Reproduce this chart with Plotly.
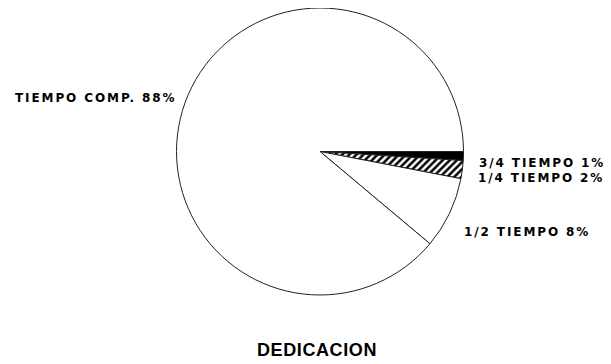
import plotly.graph_objects as go

# slices, clockwise from 3 o'clock
labels = ["3/4 TIEMPO", "1/4 TIEMPO", "1/2 TIEMPO", "TIEMPO COMP."]
values = [1, 2, 8, 88]
fills = ["black", "white", "white", "white"]
hatch = ["", "/", "", ""]

# page body has an 8px margin, so the figure is drawn 8px in from the corner
OFF = 8
W, H = 611 - OFF, 364 - OFF
cx, cy, r = 320 - OFF, 151.5 - OFF, 143.5   # pie centre / radius in pixels

fig = go.Figure(go.Pie(
    labels=labels,
    values=values,
    sort=False,
    direction="clockwise",
    rotation=90,
    textinfo="none",
    hoverinfo="label+percent",
    marker=dict(colors=fills,
                line=dict(color="#222222", width=1),
                pattern=dict(shape=hatch, fgcolor="black", bgcolor="white",
                             size=5, solidity=0.5)),
    domain=dict(x=[(cx - r) / W, (cx + r) / W],
                y=[max(0, 1 - (cy + r) / H), min(1, 1 - (cy - r) / H)]),
    showlegend=False,
))

lab_font = dict(family="DejaVu Sans", size=12, color="black", weight="bold")

# text labels next to the pie (left edge x, centre y, in page pixels)
label_pos = [(477, 162.5), (476, 178), (462, 232), (13, 98)]
for name, v, (lx, ly) in zip(labels, values, label_pos):
    fig.add_annotation(x=(lx - OFF) / W, y=1 - (ly - OFF) / H,
                       xref="paper", yref="paper",
                       text=f'<span style="letter-spacing:1.9px">{name} {v}%</span>',
                       showarrow=False, xanchor="left", yanchor="middle",
                       font=lab_font)

fig.add_annotation(x=(317 - OFF) / W, y=1 - (350 - OFF) / H,
                   xref="paper", yref="paper",
                   text='<span style="letter-spacing:0.6px">DEDICACION</span>',
                   showarrow=False, xanchor="center", yanchor="middle",
                   font=dict(family="Liberation Sans", size=18, color="black",
                             weight="bold"))

fig.update_layout(width=W, height=H,
                  margin=dict(l=0, r=0, t=0, b=0),
                  paper_bgcolor="white", plot_bgcolor="white")

fig.write_html("out.html")
